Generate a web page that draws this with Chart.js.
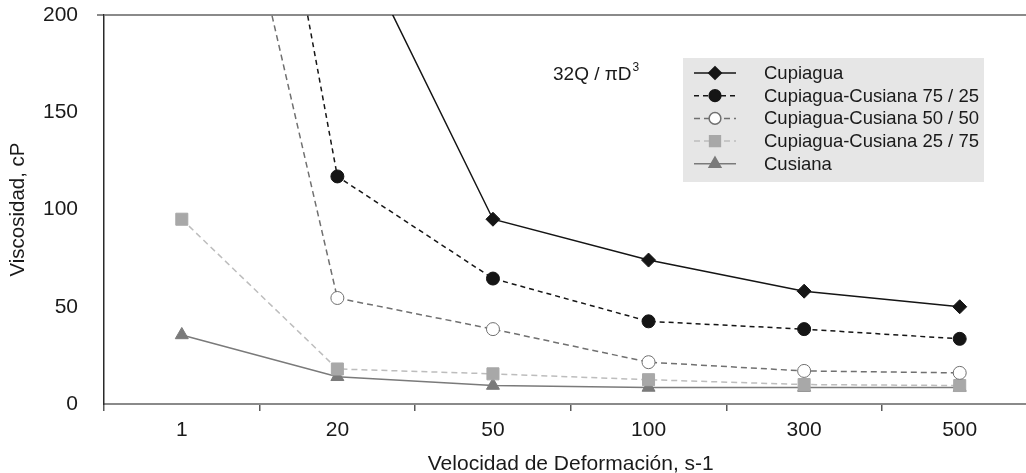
<!DOCTYPE html>
<html>
<head>
<meta charset="utf-8">
<script src="https://cdn.jsdelivr.net/npm/chart.js@4/dist/chart.umd.min.js"></script>
<style>
  html, body { margin: 0; padding: 0; background: #fff; overflow: hidden; }
  #wrap { width: 1047px; height: 473px; }
</style>
</head>
<body>
<div id="wrap"><canvas id="chart" width="1047" height="473"></canvas></div>
<script>
// shear rate categories (s-1)
const rates = ["1", "20", "50", "100", "300", "500"];

// viscosity, cP (values above 200 run off the top of the plot)
const cupiagua = [700, 258, 95, 74, 58, 50];
const mix7525 = [550, 117, 64.5, 42.5, 38.5, 33.5];
const mix5050 = [400, 54.5, 38.5, 21.5, 17, 16];
const mix2575 = [95, 18, 15.5, 12.5, 10, 9.5];
const cusiana = [35.5, 14, 9.5, 8.5, 8.5, 8.5];

const yTicks = [0, 50, 100, 150, 200];

const FONT = "'Liberation Sans', Arial, sans-serif";

const series = [
  { label: "Cupiagua", data: cupiagua, color: "#151515", fill: "#151515", dash: [], style: "rectRot", r: 7 },
  { label: "Cupiagua-Cusiana 75 / 25", data: mix7525, color: "#151515", fill: "#151515", dash: [5, 4], style: "circle", r: 6.5 },
  { label: "Cupiagua-Cusiana 50 / 50", data: mix5050, color: "#707070", fill: "#ffffff", dash: [6, 4], style: "circle", r: 6.5 },
  { label: "Cupiagua-Cusiana 25 / 75", data: mix2575, color: "#bdbdbd", fill: "#a8a8a8", dash: [6, 4], style: "rect", r: 8.5 },
  { label: "Cusiana", data: cusiana, color: "#7a7a7a", fill: "#7a7a7a", dash: [], style: "triangle", r: 7.5 }
];

const boxLegend = {
  id: "boxLegend",
  afterDraw(chart) {
    const ctx = chart.ctx;
    ctx.save();
    // formula label
    ctx.fillStyle = "#1a1a1a";
    ctx.font = "19px " + FONT;
    ctx.textBaseline = "alphabetic";
    ctx.textAlign = "left";
    const f = "32Q / \u03c0D";
    ctx.fillText(f, 553, 80);
    const w = ctx.measureText(f).width;
    ctx.font = "12px " + FONT;
    ctx.fillText("3", 553 + w + 1, 71);

    // legend box
    ctx.fillStyle = "#e6e6e6";
    ctx.fillRect(683, 58, 301, 124);
    ctx.font = "18.5px " + FONT;
    ctx.textBaseline = "middle";
    chart.data.datasets.forEach((ds, i) => {
      const y = 73 + i * 22.7;
      ctx.strokeStyle = ds.borderColor;
      ctx.lineWidth = 1.5;
      ctx.setLineDash(ds.borderDash || []);
      ctx.beginPath();
      ctx.moveTo(694, y);
      ctx.lineTo(736, y);
      ctx.stroke();
      ctx.setLineDash([]);
      ctx.fillStyle = ds.pointBackgroundColor;
      ctx.strokeStyle = ds.pointBorderColor;
      Chart.helpers.drawPoint(ctx, {
        pointStyle: ds.pointStyle,
        radius: ds.pointRadius * 0.9,
        rotation: 0,
        borderWidth: 1
      }, 715, y);
      ctx.fillStyle = "#1a1a1a";
      ctx.fillText(ds.label, 764, y + 1);
    });
    ctx.restore();
  }
};

new Chart(document.getElementById("chart"), {
  type: "line",
  data: {
    labels: rates,
    datasets: series.map(s => ({
      label: s.label,
      data: s.data,
      borderColor: s.color,
      borderWidth: 1.5,
      borderDash: s.dash,
      pointStyle: s.style,
      pointRadius: s.r,
      pointBackgroundColor: s.fill,
      pointBorderColor: s.style === "circle" && s.fill === "#ffffff" ? s.color : s.fill,
      pointBorderWidth: 1,
      tension: 0
    }))
  },
  options: {
    responsive: false,
    devicePixelRatio: 1,
    animation: false,
    layout: { padding: { top: 15, right: 3, left: 0, bottom: 0 } },
    plugins: {
      legend: { display: false },
      tooltip: { enabled: false }
    },
    scales: {
      x: {
        offset: true,
        grid: {
          offset: true,
          drawOnChartArea: false,
          drawTicks: true,
          tickLength: 7,
          color: "#5a5a5a",
          lineWidth: 1.5
        },
        border: { color: "#8a8a8a", width: 2 },
        ticks: {
          color: "#1a1a1a",
          font: { family: FONT, size: 21 },
          padding: 7,
          maxRotation: 0
        },
        title: {
          display: true,
          text: "Velocidad de Deformación, s-1",
          color: "#1a1a1a",
          font: { family: FONT, size: 21, lineHeight: 1 },
          padding: { top: 8, bottom: -2 }
        },
        afterFit(scale) {
          scale.height = 69;
          scale.paddingLeft = 0;
          scale.paddingRight = 0;
        }
      },
      y: {
        min: 0,
        max: 200,
        afterBuildTicks(scale) { scale.ticks = yTicks.map(v => ({ value: v })); },
        grid: {
          drawTicks: true,
          tickLength: 7,
          color: ctx => (ctx.tick && ctx.tick.value === 200 ? "#8a8a8a" : "rgba(0,0,0,0)"),
          lineWidth: 2
        },
        border: { color: "#2a2a2a", width: 1.5 },
        ticks: {
          color: "#1a1a1a",
          font: { family: FONT, size: 21 },
          padding: 19
        },
        title: {
          display: true,
          text: "Viscosidad, cP",
          color: "#1a1a1a",
          font: { family: FONT, size: 20.5 },
          padding: { top: 6, bottom: 4 }
        },
        afterFit(scale) {
          scale.width = 104;
          scale.paddingTop = 0;
          scale.paddingBottom = 0;
        }
      }
    }
  },
  plugins: [boxLegend]
});
</script>
</body>
</html>
